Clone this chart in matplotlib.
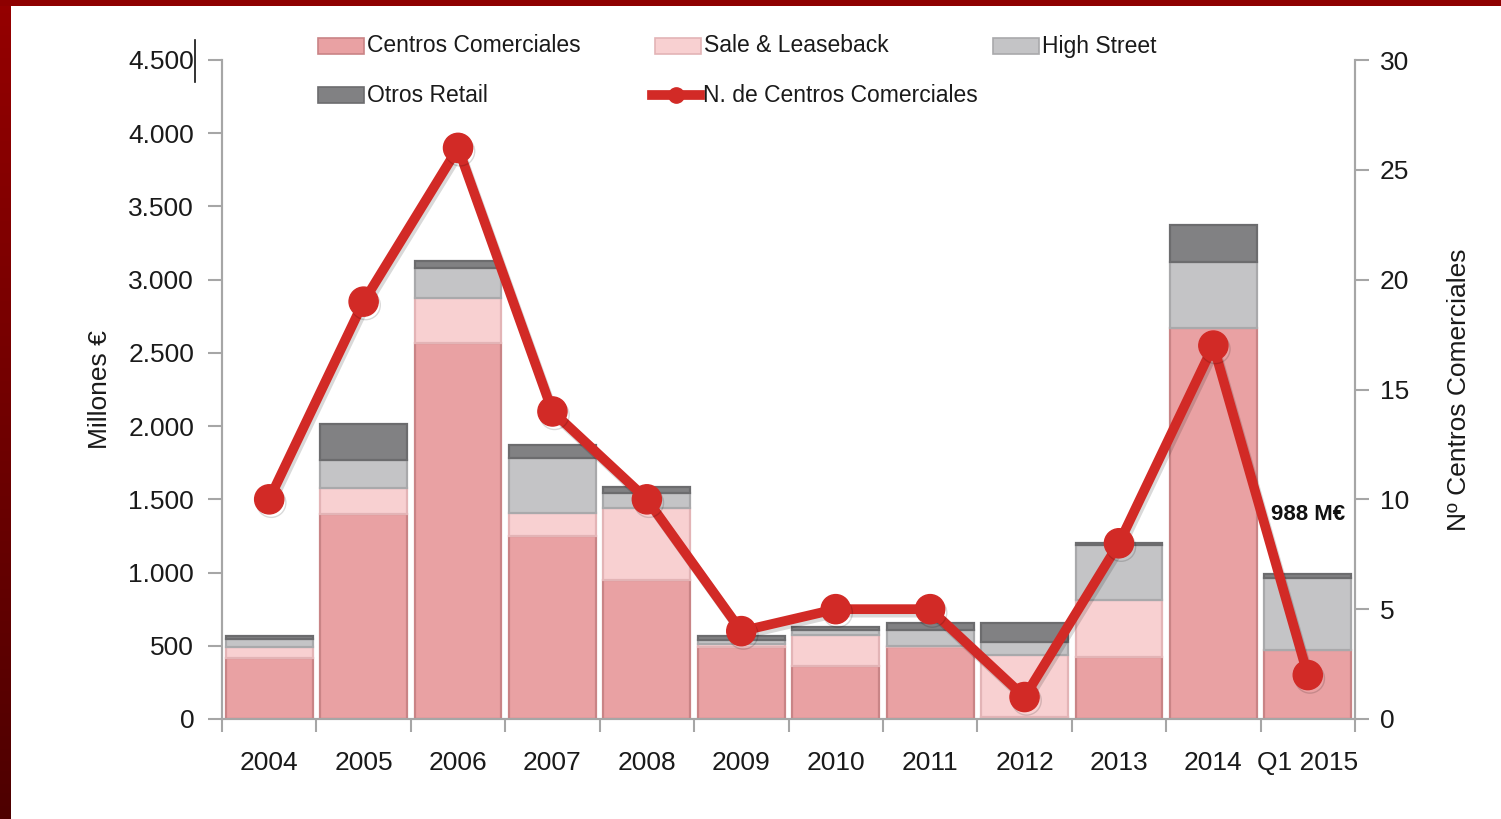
import numpy as np
import matplotlib
matplotlib.use("Agg")
import matplotlib.pyplot as plt
from matplotlib.patches import Rectangle
from matplotlib.lines import Line2D
import matplotlib.patheffects as pe

# ---- data -------------------------------------------------------------
years = ["2004", "2005", "2006", "2007", "2008", "2009", "2010", "2011",
         "2012", "2013", "2014", "Q1 2015"]
centros_comerciales = [417, 1400, 2568, 1250, 949, 490, 360, 490, 15, 424, 2670, 470]
sale_leaseback      = [75, 178, 307, 157, 492, 20, 215, 10, 420, 389, 0, 0]
high_street         = [55, 191, 205, 375, 102, 30, 30, 110, 90, 374, 451, 495]
otros_retail        = [20, 246, 48, 89, 41, 25, 20, 45, 130, 15, 252, 23]
n_centros           = [10, 19, 26, 14, 10, 4, 5, 5, 1, 8, 17, 2]

left_ticks = [0, 500, 1000, 1500, 2000, 2500, 3000, 3500, 4000, 4500]
left_tick_labels = ["0", "500", "1.000", "1.500", "2.000", "2.500", "3.000",
                    "3.500", "4.000", "4.500"]
right_ticks = [0, 5, 10, 15, 20, 25, 30]

series_names = ["Centros Comerciales", "Sale & Leaseback", "High Street", "Otros Retail"]
line_name = "N. de Centros Comerciales"
annotation = "988 M€"

# ---- style ------------------------------------------------------------
plt.rcParams['font.family'] = ['Liberation Sans', 'DejaVu Sans']
FS = 19
colors = ["#E9A1A3", "#F8D0D1", "#C4C4C6", "#818183"]
edges = ["#C98486", "#E3B4B6", "#A9A9AB", "#6C6C6E"]
line_color = "#D22A26"
spine_color = "#A6A6A6"
text_color = "#1a1a1a"

fig = plt.figure(figsize=(15.01, 8.19), dpi=100)
fig.patch.set_facecolor("white")

ax = fig.add_axes([222 / 1501, 1 - 719 / 819, (1355 - 222) / 1501, (719 - 60) / 819])
ax2 = ax.twinx()

x = np.arange(len(years))
width = 0.92
bottom = np.zeros(len(years))
stacks = [centros_comerciales, sale_leaseback, high_street, otros_retail]
for vals, c, ec in zip(stacks, colors, edges):
    vals = np.array(vals, dtype=float)
    ax.bar(x, vals, width=width, bottom=bottom, color=c, edgecolor=ec,
           linewidth=1.6, zorder=2)
    bottom += vals

ax.set_xlim(-0.5, len(years) - 0.5)
ax.set_ylim(0, 4500)
ax.set_yticks(left_ticks)
ax.set_yticklabels(left_tick_labels)
ax.set_xticks(np.arange(-0.5, len(years), 1.0))
ax.set_xticklabels([])
ax.set_xticks(x, minor=True)
ax.set_xticklabels(years, minor=True)
ax.tick_params(axis="x", which="major", length=9, width=1.5, color=spine_color, direction="out")
ax.tick_params(axis="x", which="minor", length=0, pad=23, labelsize=FS, labelcolor=text_color)
ax.tick_params(axis="y", length=10, width=1.5, color=spine_color, labelsize=FS,
               labelcolor=text_color, pad=10)

for a in (ax, ax2):
    a.spines["top"].set_visible(False)
    for s in ("left", "right", "bottom"):
        a.spines[s].set_color(spine_color)
        a.spines[s].set_linewidth(1.5)

ax2.set_ylim(0, 30)
ax2.set_yticks(right_ticks)
ax2.tick_params(axis="y", length=10, width=1.5, color=spine_color, labelsize=FS,
                labelcolor=text_color, pad=8)
ax2.plot(x, n_centros, color=line_color, linewidth=7, marker="o", markersize=21,
         markerfacecolor=line_color, markeredgecolor=line_color, zorder=5,
         solid_capstyle="round",
         path_effects=[pe.SimpleLineShadow(offset=(1.5, -2.5), shadow_color="#000000", alpha=0.15),
                       pe.Normal()])
ax.set_zorder(1)
ax2.set_zorder(2)
ax.patch.set_visible(False)

ax.set_ylabel("Millones €", fontsize=FS, color=text_color, labelpad=12)
ax2.set_ylabel("Nº Centros Comerciales", fontsize=FS, color=text_color, labelpad=27)

ax2.text(0.991, 9.3 / 30, annotation, transform=ax2.transAxes, ha="right", va="center",
         fontsize=16, fontweight="bold", color="#111111", zorder=6)

# ---- legend -----------------------------------------------------------
def fx(px):
    return px / 1501

def fy(py):
    return 1 - py / 819

legend_items = [
    (318, 46, "patch", 0), (655, 46, "patch", 1), (993, 46, "patch", 2),
    (318, 95, "patch", 3), (652, 95, "line", None),
]
labels = series_names + [line_name]
for (px, py, kind, idx), lab in zip(legend_items, labels):
    if kind == "patch":
        fig.patches.append(Rectangle((fx(px), fy(py + 8)), fx(46), 16 / 819,
                                     transform=fig.transFigure, facecolor=colors[idx],
                                     edgecolor=edges[idx], linewidth=1.2))
    else:
        fig.add_artist(Line2D([fx(px), fx(px + 48)], [fy(py), fy(py)],
                              transform=fig.transFigure, color=line_color, linewidth=7))
        fig.add_artist(Line2D([fx(px + 24)], [fy(py)], transform=fig.transFigure,
                              color=line_color, marker="o", markersize=11))
    fig.text(fx(px + 49 if kind == "patch" else px + 51), fy(py), lab, ha="left",
             va="center", fontsize=16.5, color=text_color)

# text cursor mark beside the top left tick label
fig.add_artist(Line2D([fx(195), fx(195)], [fy(40), fy(82)], transform=fig.transFigure,
                      color="#111111", linewidth=1.2))

# ---- frame bands ------------------------------------------------------
fig.patches.append(Rectangle((0, fy(6)), 1, 6 / 819, transform=fig.transFigure,
                             facecolor="#8E0000", edgecolor="none", zorder=10))
grad = np.linspace(0, 1, 256).reshape(-1, 1)
band = fig.add_axes([0, 0, 11 / 1501, 1])
band.imshow(grad, aspect="auto", extent=[0, 1, 0, 1], origin="upper",
            cmap=matplotlib.colors.LinearSegmentedColormap.from_list("b", ["#950000", "#4E0000"]))
band.set_axis_off()

fig.savefig("out.png", dpi=100, facecolor="white")
